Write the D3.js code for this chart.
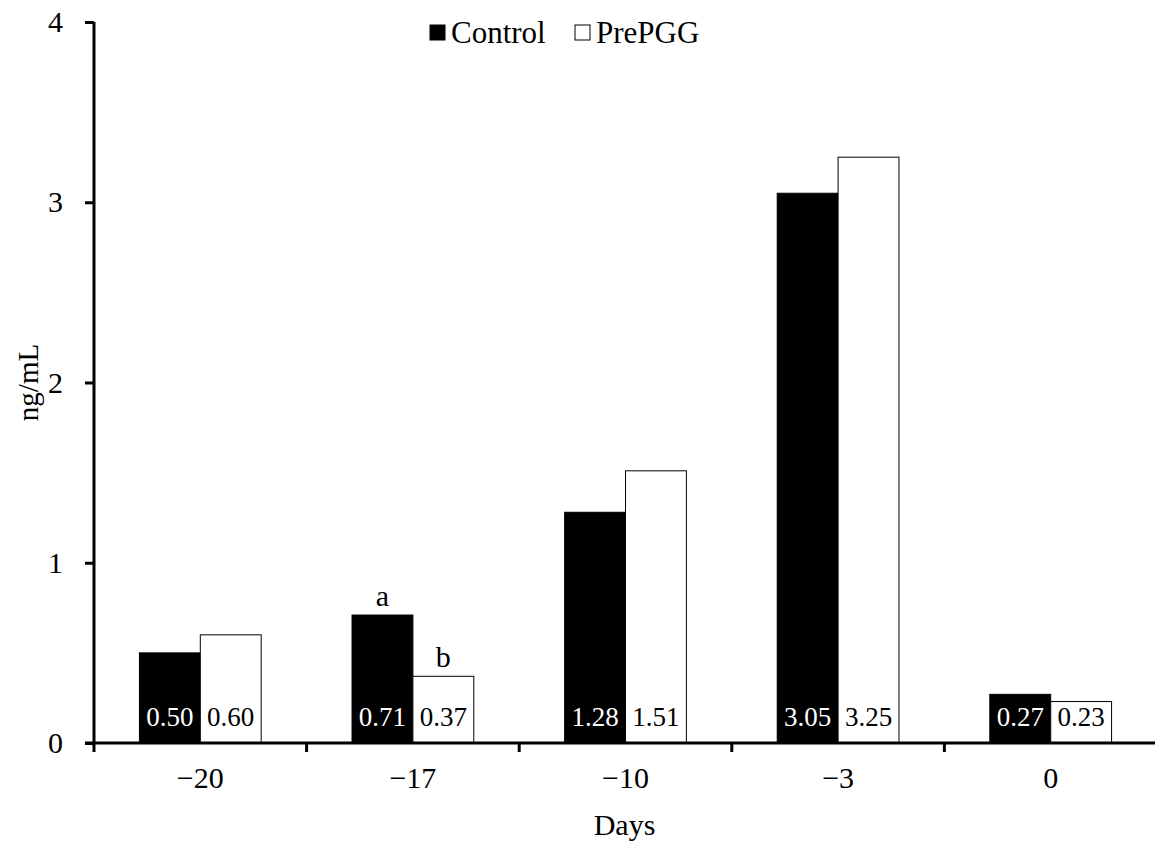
<!DOCTYPE html>
<html>
<head>
<meta charset="utf-8">
<script src="https://cdn.jsdelivr.net/npm/d3@7"></script>
<style>
  body { margin: 0; background: #fff; }
</style>
</head>
<body>
<script>
const days = ["\u221220", "\u221217", "\u221210", "\u22123", "0"];
const groups = ["Control", "PrePGG"];
const control = [0.50, 0.71, 1.28, 3.05, 0.27];
const prePGG = [0.60, 0.37, 1.51, 3.25, 0.23];
const yTicks = [0, 1, 2, 3, 4];
// significance letters (day index, group, letter)
const letters = [
  { day: 1, group: "Control", letter: "a" },
  { day: 1, group: "PrePGG", letter: "b" }
];

const FONT = "'Liberation Serif', 'Times New Roman', serif";
const width = 1155;
const height = 844;
const margin = { top: 22, right: -2, bottom: 101, left: 94 };

const svg = d3.select("body")
  .append("svg")
  .attr("width", width)
  .attr("height", height)
  .style("font-family", FONT);

const x = d3.scaleBand()
  .domain(days)
  .range([margin.left, width - margin.right])
  .padding(0);

const sub = d3.scaleBand()
  .domain(groups)
  .range([0, x.bandwidth()])
  .paddingInner(0)
  .paddingOuter(0.746);

const y = d3.scaleLinear()
  .domain([0, 4])
  .range([height - margin.bottom, margin.top]);

const rows = [];
days.forEach((d, i) => {
  rows.push({ day: d, group: "Control", value: control[i] });
  rows.push({ day: d, group: "PrePGG", value: prePGG[i] });
});

const fill = { Control: "#000", PrePGG: "#fff" };
const textFill = { Control: "#fff", PrePGG: "#000" };

// bars
svg.selectAll("rect.bar")
  .data(rows)
  .enter()
  .append("rect")
  .attr("class", "bar")
  .attr("x", d => x(d.day) + sub(d.group))
  .attr("y", d => y(d.value))
  .attr("width", sub.bandwidth())
  .attr("height", d => y(0) - y(d.value))
  .attr("fill", d => fill[d.group])
  .attr("stroke", "#000")
  .attr("stroke-width", 1);

// value labels inside bars
svg.selectAll("text.val")
  .data(rows)
  .enter()
  .append("text")
  .attr("class", "val")
  .attr("x", d => x(d.day) + sub(d.group) + sub.bandwidth() / 2)
  .attr("y", y(0) - 17)
  .attr("text-anchor", "middle")
  .style("font-family", FONT)
  .style("font-size", "27px")
  .attr("fill", d => textFill[d.group])
  .text(d => d.value.toFixed(2));

// letters
svg.selectAll("text.letter")
  .data(letters)
  .enter()
  .append("text")
  .attr("class", "letter")
  .attr("x", d => x(days[d.day]) + sub(d.group) + sub.bandwidth() / 2)
  .attr("y", d => y(d.group === "Control" ? control[d.day] : prePGG[d.day]) - 9)
  .attr("text-anchor", "middle")
  .style("font-family", FONT)
  .style("font-size", "30px")
  .text(d => d.letter);

// y axis
const yAxis = svg.append("g")
  .attr("transform", `translate(${margin.left},0)`)
  .call(d3.axisLeft(y).tickValues(yTicks).tickFormat(d3.format("d")).tickSize(9).tickPadding(22));
yAxis.attr("font-family", null);
yAxis.select(".domain").attr("stroke-width", 3).attr("d", `M0,${y(4)}V${y(0)}`);
yAxis.selectAll(".tick line").attr("stroke-width", 3);
yAxis.selectAll(".tick text")
  .style("font-family", FONT)
  .style("font-size", "30px")
  .attr("fill", "#000");

// x axis
const xAxis = svg.append("g")
  .attr("transform", `translate(0,${y(0)})`)
  .call(d3.axisBottom(x).tickSize(0).tickPadding(24));
xAxis.attr("font-family", null);
xAxis.select(".domain").attr("stroke-width", 3)
  .attr("d", `M${margin.left - 9},0H${width}`);
xAxis.selectAll(".tick text")
  .style("font-family", FONT)
  .style("font-size", "30px")
  .attr("fill", "#000");

// category boundary ticks
svg.append("g")
  .selectAll("line")
  .data(days)
  .enter()
  .append("line")
  .attr("x1", d => x(d))
  .attr("x2", d => x(d))
  .attr("y1", y(0))
  .attr("y2", y(0) + 9)
  .attr("stroke", "#000")
  .attr("stroke-width", 3);

// axis titles
svg.append("text")
  .attr("x", x.range()[0] + (x.range()[1] - x.range()[0]) / 2 - 1)
  .attr("y", 835)
  .attr("text-anchor", "middle")
  .style("font-family", FONT)
  .style("font-size", "30px")
  .text("Days");

svg.append("text")
  .attr("transform", `translate(38,${y(2)}) rotate(-90)`)
  .attr("text-anchor", "middle")
  .style("font-family", FONT)
  .style("font-size", "29px")
  .text("ng/mL");

// legend
const legend = svg.append("g").attr("transform", "translate(430,33)");
const legendX = [0, 145];
groups.forEach((g, i) => {
  const item = legend.append("g").attr("transform", `translate(${legendX[i]},0)`);
  item.append("rect")
    .attr("x", 0)
    .attr("y", -8)
    .attr("width", 15)
    .attr("height", 15)
    .attr("fill", fill[g])
    .attr("stroke", "#000")
    .attr("stroke-width", 1);
  item.append("text")
    .attr("x", 21)
    .attr("y", 10)
    .style("font-family", FONT)
    .style("font-size", "31px")
    .text(g);
});
</script>
</body>
</html>
